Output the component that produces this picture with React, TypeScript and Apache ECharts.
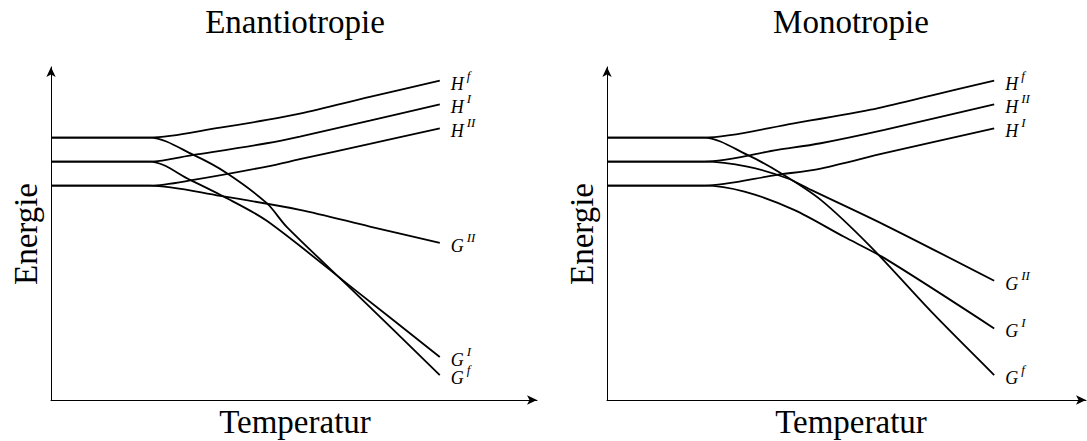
import React, { useEffect, useRef } from "react";
import * as echarts from "echarts";

// ---- Data (T in arbitrary units 0..10, E in arbitrary units 0..10) ----
// Left panel: Enantiotropie
const enHf = [[0, 7.88], [2.04, 7.88], [3.48, 8.18], [4.44, 8.41], [5.12, 8.6], [6.56, 9.1], [8.0, 9.59]];
const enGf = [[0, 7.88], [2.04, 7.88], [2.93, 7.36], [3.62, 6.81], [4.44, 5.91], [4.85, 5.2], [6.26, 3.22], [8.0, 0.75]];
const enHI = [[0, 7.16], [2.04, 7.16], [2.93, 7.36], [4.44, 7.71], [5.12, 7.91], [6.56, 8.39], [8.0, 8.88]];
const enGI = [[0, 7.16], [2.04, 7.16], [2.86, 6.61], [3.55, 6.11], [4.44, 5.38], [6.26, 3.3], [8.0, 1.29]];
const enHII = [[0, 6.44], [2.04, 6.44], [2.93, 6.61], [4.44, 7.01], [5.12, 7.23], [6.56, 7.69], [8.0, 8.16]];
const enGII = [[0, 6.44], [2.04, 6.44], [3.48, 6.13], [5.12, 5.71], [6.56, 5.21], [8.0, 4.72]];

// Right panel: Monotropie
const moHf = [[0, 7.88], [2.0, 7.88], [3.85, 8.31], [5.43, 8.72], [6.69, 9.15], [7.97, 9.59]];
const moGf = [[0, 7.88], [2.0, 7.88], [2.89, 7.36], [3.58, 6.81], [4.4, 6.01], [5.43, 4.6], [6.69, 2.63], [7.97, 0.75]];
const moHII = [[0, 7.16], [2.0, 7.16], [3.51, 7.51], [4.4, 7.71], [5.71, 8.11], [7.97, 8.88]];
const moGII = [[0, 7.16], [2.0, 7.16], [2.89, 7.01], [3.71, 6.66], [4.2, 6.31], [5.71, 5.26], [7.97, 3.58]];
const moHI = [[0, 6.44], [2.0, 6.44], [3.5, 6.76], [4.4, 6.95], [5.71, 7.41], [7.97, 8.16]];
const moGI = [[0, 6.44], [2.0, 6.44], [2.83, 6.26], [3.85, 5.71], [4.88, 4.9], [5.71, 4.26], [7.97, 2.15]];

const panelTitles = ["Enantiotropie", "Monotropie"];
const xAxisName = "Temperatur";
const yAxisName = "Energie";

// curve definitions: [panel, data, base letter, superscript]
const curves: [number, number[][], string, string][] = [
  [0, enHf, "H", "f"],
  [0, enGf, "G", "f"],
  [0, enHI, "H", "I"],
  [0, enGI, "G", "I"],
  [0, enHII, "H", "II"],
  [0, enGII, "G", "II"],
  [1, moHf, "H", "f"],
  [1, moGf, "G", "f"],
  [1, moHII, "H", "II"],
  [1, moGII, "G", "II"],
  [1, moHI, "H", "I"],
  [1, moGI, "G", "I"],
];

const SERIF = '"Liberation Serif", "DejaVu Serif", serif';

export default function App() {
  const ref = useRef<HTMLDivElement>(null);

  useEffect(() => {
    if (!ref.current) return;
    const chart = echarts.init(ref.current, undefined, { renderer: "svg" });

    const axisCommon = {
      type: "value" as const,
      axisLine: {
        show: true,
        onZero: false,
        lineStyle: { color: "#000", width: 1 },
        symbol: ["none", "arrow"],
        symbolSize: [7, 10],
      },
      axisTick: { show: false },
      axisLabel: { show: false },
      splitLine: { show: false },
    };

    const grids = [
      { left: 51, top: 67, width: 486, height: 333 },
      { left: 607, top: 67, width: 479, height: 333 },
    ];
    const xMax = [10, 9.86];
    const centers = [295, 851];
    const energieX = [26, 582];

    const graphics: any[] = [];
    for (let i = 0; i < 2; i++) {
      graphics.push({
        type: "text",
        x: centers[i],
        y: 22,
        style: { text: panelTitles[i], font: `33px ${SERIF}`, fill: "#000", align: "center", verticalAlign: "middle" },
      });
      graphics.push({
        type: "text",
        x: centers[i],
        y: 422,
        style: { text: xAxisName, font: `33px ${SERIF}`, fill: "#000", align: "center", verticalAlign: "middle" },
      });
      graphics.push({
        type: "text",
        x: energieX[i],
        y: 234,
        rotation: Math.PI / 2,
        style: { text: yAxisName, font: `33px ${SERIF}`, fill: "#000", align: "center", verticalAlign: "middle" },
      });
    }

    const rich = {
      b: { fontFamily: SERIF, fontStyle: "italic", fontSize: 18, lineHeight: 24, verticalAlign: "bottom", color: "#000" },
      s: { fontFamily: SERIF, fontStyle: "italic", fontSize: 13, lineHeight: 24, verticalAlign: "top", color: "#000", padding: [0, 0, 0, 3] },
    };

    const option = {
      animation: false,
      backgroundColor: "#fff",
      grid: grids,
      xAxis: [0, 1].map((i) => ({ ...axisCommon, gridIndex: i, min: 0, max: xMax[i] })),
      yAxis: [0, 1].map((i) => ({ ...axisCommon, gridIndex: i, min: 0, max: 10 })),
      graphic: graphics,
      series: curves.map(([panel, data, base, sup]) => ({
        type: "line",
        xAxisIndex: panel,
        yAxisIndex: panel,
        data,
        smooth: 0.3,
        showSymbol: false,
        symbol: "none",
        silent: true,
        lineStyle: { color: "#000", width: 1.8 },
        endLabel: {
          show: true,
          distance: 11,
          formatter: `{b|${base}}{s|${sup}}`,
          rich,
        },
      })),
    };

    chart.setOption(option as any);
    return () => chart.dispose();
  }, []);

  return (
    <div
      ref={ref}
      style={{ position: "fixed", left: 0, top: 0, width: 1087, height: 441, background: "#fff" }}
    />
  );
}
